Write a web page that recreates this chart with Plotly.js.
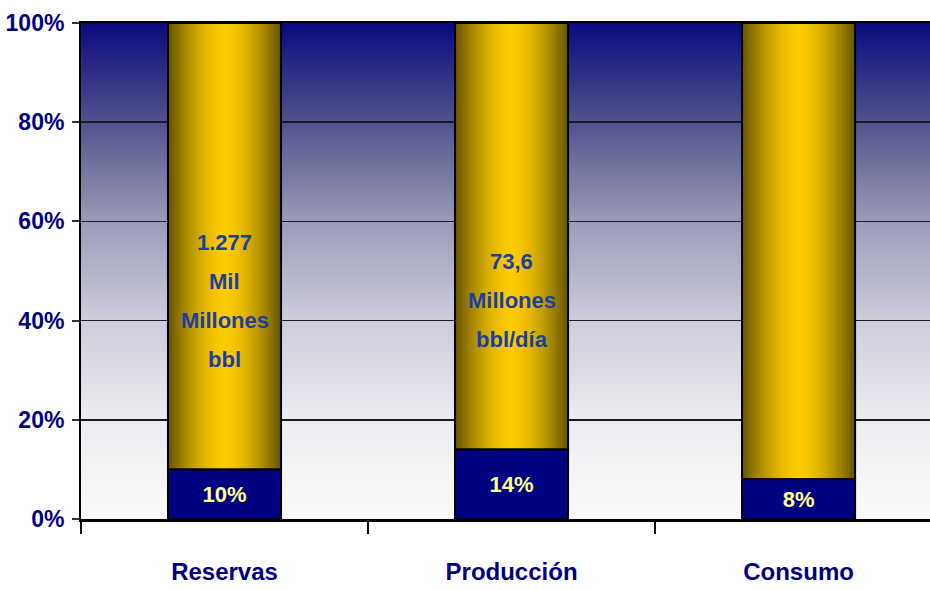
<!DOCTYPE html>
<html>
<head>
<meta charset="utf-8">
<script src="https://cdn.plot.ly/plotly-3.0.1.min.js"></script>
<style>html,body{margin:0;padding:0;background:#fff;overflow:hidden;}</style>
</head>
<body>
<div id="chart" style="width:930px;height:590px;"></div>
<script>
// ---- data ----
const categories = ['Reservas', 'Producción', 'Consumo'];
const shareValues = [10, 14, 8];            // navy segment (%)
const restValues = [90, 86, 92];            // gold segment (%)
const shareLabels = ['10%', '14%', '8%'];
const reservasText = ['1.277', 'Mil', 'Millones', 'bbl'];
const produccionText = ['73,6', 'Millones', 'bbl/día'];
const yTickValues = [0, 20, 40, 60, 80, 100];
const yTickLabels = ['0%', '20%', '40%', '60%', '80%', '100%'];

// ---- style ----
const FONT = '"Liberation Sans Narrow", "Arial Narrow", "Liberation Sans", Arial, sans-serif';
const NAVY = '#000080';
const BAR_W = 0.394;

function mix(c1, c2, t) {
  const r = Math.round(c1[0] + (c2[0] - c1[0]) * t);
  const g = Math.round(c1[1] + (c2[1] - c1[1]) * t);
  const b = Math.round(c1[2] + (c2[2] - c1[2]) * t);
  return `rgb(${r},${g},${b})`;
}
const EDGE = [104, 86, 0], MID = [255, 204, 0];

const traces = [];
const STEPS = 28;
for (let i = 0; i < STEPS; i++) {
  const d = 1 - i / STEPS;               // 1 at edge → near 0 at centre
  const w = BAR_W * d;
  const t = Math.pow(d, 1.6);
  traces.push({
    type: 'bar', x: categories, y: restValues, base: shareValues,
    width: w, marker: { color: mix(MID, EDGE, t), line: { width: 0 } },
    hoverinfo: 'skip', showlegend: false
  });
}
// outline of gold segment
traces.push({
  type: 'bar', x: categories, y: restValues, base: shareValues, width: BAR_W,
  marker: { color: 'rgba(0,0,0,0)', line: { color: '#000', width: 2 } },
  hoverinfo: 'skip', showlegend: false
});
// navy segment
traces.push({
  type: 'bar', x: categories, y: shareValues, base: [0, 0, 0], width: BAR_W,
  marker: { color: NAVY, line: { color: '#000', width: 2 } },
  text: shareLabels, textposition: 'inside', insidetextanchor: 'middle',
  constraintext: 'none',
  textfont: { family: FONT, size: 22, color: '#ffff8c', weight: 'bold' },
  hoverinfo: 'skip', showlegend: false
});

// annotations inside gold bars
const annotations = [];
const CENTER_Y = 44, LINE_PX = 39;
function addLines(cat, lines) {
  const n = lines.length;
  lines.forEach((txt, k) => {
    annotations.push({
      x: cat, y: CENTER_Y, xref: 'x', yref: 'y', text: txt, showarrow: false,
      yshift: ((n - 1) / 2 - k) * LINE_PX,
      font: { family: FONT, size: 22, color: '#1c3ea0', weight: 'bold' }
    });
  });
}
addLines(categories[0], reservasText);
addLines(categories[1], produccionText);

const svg = `<svg xmlns="http://www.w3.org/2000/svg" width="100" height="100" preserveAspectRatio="none">
<defs><linearGradient id="g" x1="0" y1="0" x2="0" y2="1">
<stop offset="0" stop-color="rgb(10,10,128)"/>
<stop offset="0.2" stop-color="rgb(82,82,140)"/>
<stop offset="0.4" stop-color="rgb(155,155,184)"/>
<stop offset="0.6" stop-color="rgb(205,205,219)"/>
<stop offset="0.8" stop-color="rgb(236,236,241)"/>
<stop offset="1" stop-color="rgb(251,251,251)"/>
</linearGradient></defs>
<rect width="100" height="100" fill="url(#g)"/></svg>`;

const layout = {
  width: 930, height: 590,
  margin: { l: 81, r: 0, t: 23, b: 71 },
  paper_bgcolor: '#ffffff',
  plot_bgcolor: 'rgba(0,0,0,0)',
  barmode: 'overlay',
  font: { family: FONT, color: NAVY },
  images: [{
    source: 'data:image/svg+xml;charset=utf-8,' + encodeURIComponent(svg),
    xref: 'paper', yref: 'paper', x: 0, y: 1, sizex: 1, sizey: 1,
    xanchor: 'left', yanchor: 'top', sizing: 'stretch', layer: 'below'
  }],
  xaxis: {
    type: 'category', range: [-0.5, 2.458],
    showgrid: false, zeroline: false,
    showline: true, linecolor: '#000', linewidth: 2.5, mirror: true,
    ticks: 'outside', tickson: 'boundaries', ticklen: 12, tickwidth: 1.5, tickcolor: '#000',
    tickfont: { family: FONT, size: 24, color: NAVY, weight: 'bold' },
    ticklabelstandoff: 30
  },
  yaxis: {
    range: [0, 100], tickmode: 'array', tickvals: yTickValues, ticktext: yTickLabels,
    showgrid: true, gridcolor: '#1a1a2a', gridwidth: 1.5, zeroline: false,
    showline: true, linecolor: '#000', linewidth: 2,
    ticks: 'outside', ticklen: 7, tickwidth: 2, tickcolor: '#333',
    tickfont: { family: FONT, size: 23, color: NAVY, weight: 'bold' },
    ticklabelstandoff: 3
  },
  annotations: annotations,
  showlegend: false
};

Plotly.newPlot('chart', traces, layout, { displayModeBar: false, staticPlot: true });
</script>
</body>
</html>
